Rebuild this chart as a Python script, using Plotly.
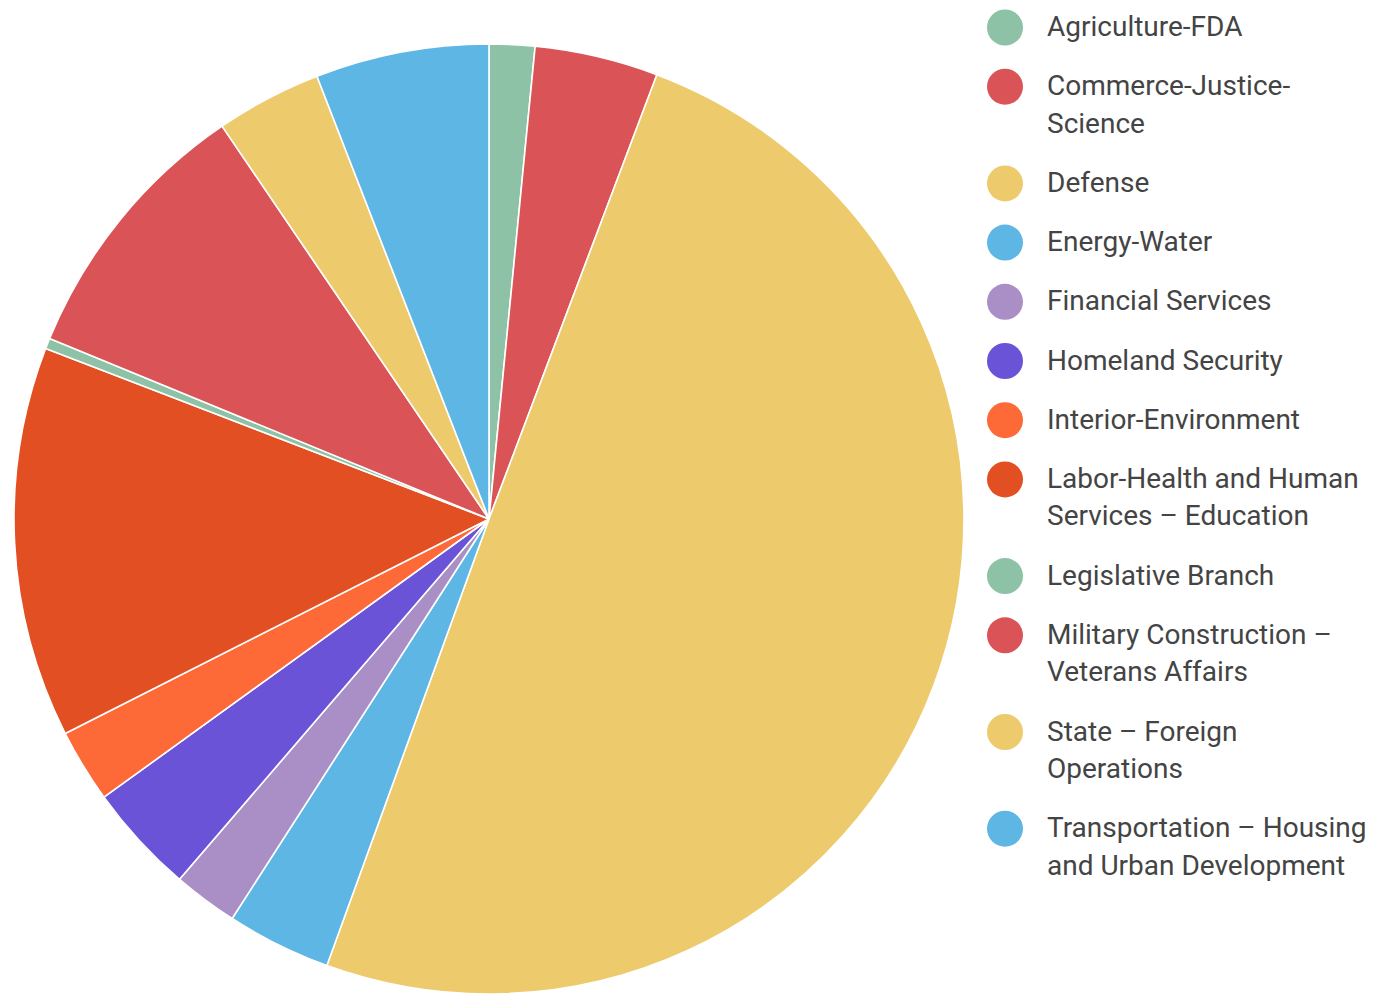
import plotly.graph_objects as go

# Appropriations subcommittee shares (percent of total)
subcommittees = [
    "Agriculture-FDA",
    "Commerce-Justice-<br>Science",
    "Defense",
    "Energy-Water",
    "Financial Services",
    "Homeland Security",
    "Interior-Environment",
    "Labor-Health and Human<br>Services \u2013 Education",
    "Legislative Branch",
    "Military Construction \u2013<br>Veterans Affairs",
    "State \u2013 Foreign<br>Operations",
    "Transportation \u2013 Housing<br>and Urban Development",
]
shares = [1.55, 4.2, 49.8, 3.55, 2.2, 3.75, 2.5, 13.3, 0.36, 9.3, 3.6, 5.9]
colors = [
    "#8DC2A6", "#DA5457", "#EDCA6B", "#5DB6E4", "#A98FC6", "#6B53D8",
    "#FD6A38", "#E24F22", "#8DC2A6", "#DA5457", "#EDCA6B", "#5DB6E4",
]

W, H = 1376, 995
FONT = "Roboto"
TEXT_COLOR = "#444444"

fig = go.Figure()

fig.add_trace(go.Pie(
    labels=[s.replace("<br>", " ") for s in subcommittees],
    values=shares,
    sort=False,
    direction="clockwise",
    rotation=0,
    marker=dict(colors=colors, line=dict(color="white", width=1.6)),
    textinfo="none",
    hoverinfo="label+percent",
    showlegend=False,
    domain=dict(x=[14 / W, 964 / W], y=[1 - 994 / H, 1 - 44 / H]),
))

# Custom legend: large round swatches with wrapped labels
ITEM_STEP = 59.2
LINE_STEP = 37.5
TOP = 27.5
marker_y = []
line_x, line_y, line_text = [], [], []
extra = 0
for i, lab in enumerate(subcommittees):
    y0 = TOP + ITEM_STEP * i + LINE_STEP * extra
    marker_y.append(y0)
    parts = lab.split("<br>")
    for k, p in enumerate(parts):
        line_x.append(1047)
        line_y.append(y0 + 1.5 + LINE_STEP * k)
        line_text.append(p)
    extra += len(parts) - 1

fig.add_trace(go.Scatter(
    x=[1005] * len(subcommittees), y=marker_y,
    mode="markers",
    marker=dict(size=36, color=colors, line=dict(width=0)),
    hoverinfo="skip", showlegend=False,
    xaxis="x", yaxis="y",
))
fig.add_trace(go.Scatter(
    x=line_x, y=line_y, text=line_text,
    mode="text", textposition="middle right",
    textfont=dict(family=FONT, size=28, color=TEXT_COLOR),
    hoverinfo="skip", showlegend=False,
    xaxis="x", yaxis="y",
))

fig.update_layout(
    width=W, height=H,
    margin=dict(l=0, r=0, t=0, b=0),
    paper_bgcolor="white", plot_bgcolor="rgba(0,0,0,0)",
    font=dict(family=FONT, color=TEXT_COLOR),
    xaxis=dict(range=[0, W], domain=[0, 1], visible=False, fixedrange=True),
    yaxis=dict(range=[H, 0], domain=[0, 1], visible=False, fixedrange=True),
    showlegend=False,
)

fig.write_html("out.html", config={"displayModeBar": False})
